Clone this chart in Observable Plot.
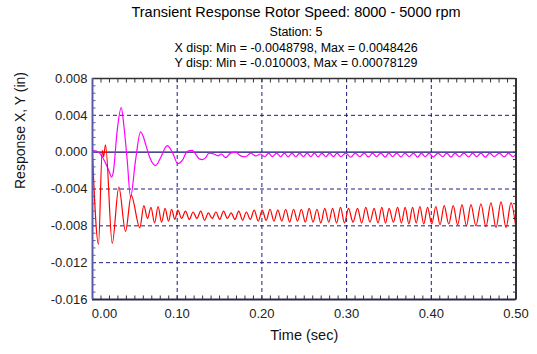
<!DOCTYPE html>
<html>
<head>
<meta charset="utf-8">
<script src="https://cdn.jsdelivr.net/npm/d3@7"></script>
<script src="https://cdn.jsdelivr.net/npm/@observablehq/plot@0.6"></script>
<style>
  html, body { margin: 0; padding: 0; background: #fff; }
  body { font-family: "Liberation Sans", Arial, sans-serif; color: #000; width: 537px; }
  #head { width: 537px; padding-left: 55px; box-sizing: border-box; text-align: center; }
  #head div { white-space: nowrap; }
  .t1 { font-size: 14.5px; height: 24px; line-height: 24px; }
  .t2 { font-size: 12.5px; height: 17px; line-height: 17px; }
  .t3 { font-size: 12.5px; height: 15px; line-height: 15px; }
</style>
</head>
<body>
<div id="head">
  <div class="t1" id="title"></div>
  <div class="t2" id="station"></div>
  <div class="t3" id="xinfo"></div>
  <div class="t3" id="yinfo"></div>
</div>
<div id="chart"></div>
<script>
// Header text
const titleText = "Transient Response Rotor Speed: 8000 - 5000 rpm";
const stationText = "Station: 5";
const xDispMin = -0.0048798, xDispMax = 0.0048426;
const yDispMin = -0.010003, yDispMax = 0.00078129;

// Axis ticks
const xTicks = [0, 0.1, 0.2, 0.3, 0.4, 0.5];
const yTicks = [-0.016, -0.012, -0.008, -0.004, 0, 0.004, 0.008];
const xGrid = [0.1, 0.2, 0.3, 0.4];
const yGrid = [-0.012, -0.008, -0.004, 0.004];

// X displacement (magenta): time (s) and response (in)
const xDispT = [
  0.0000, 0.0074, 0.0115, 0.0154, 0.0193, 0.0225, 0.0245, 0.0292, 0.0339, 0.0370,
  0.0410, 0.0449, 0.0508, 0.0567, 0.0599, 0.0626, 0.0677, 0.0745, 0.0804, 0.0883,
  0.0942, 0.1008, 0.1060, 0.1119, 0.1178, 0.1217, 0.1257, 0.1297, 0.1336, 0.1375,
  0.1434, 0.1481, 0.1521, 0.1572, 0.1631, 0.1690, 0.1749, 0.1809, 0.1868, 0.1927,
  0.1986, 0.2033, 0.2079, 0.2124, 0.2173, 0.2222, 0.2266, 0.2309, 0.2355, 0.2400,
  0.2446, 0.2491, 0.2534, 0.2577, 0.2620, 0.2663, 0.2709, 0.2754, 0.2800, 0.2845,
  0.2888, 0.2931, 0.2990, 0.3050, 0.3103, 0.3156, 0.3208, 0.3259, 0.3306, 0.3353,
  0.3404, 0.3455, 0.3499, 0.3543, 0.3592, 0.3641, 0.3690, 0.3739, 0.3789, 0.3838,
  0.3883, 0.3928, 0.3975, 0.4022, 0.4078, 0.4134, 0.4183, 0.4232, 0.4281, 0.4330,
  0.4386, 0.4441, 0.4488, 0.4535, 0.4586, 0.4637, 0.4690, 0.4743, 0.4803, 0.4862,
  0.4912, 0.4961, 0.5000
];
const xDispV = [
  0.0002, 0.0000, -0.0005, -0.0012, -0.0020, -0.0027, -0.0022, 0.0024, 0.0048426, 0.0029,
  -0.0009, -0.0048798, -0.0009, 0.0022, 0.0017, 0.0009, -0.0006, -0.00145, -0.0006, 0.0007,
  0.0000, -0.00126, -0.0009, 0.0001, 0.0002, -0.0002, -0.0007, -0.0008, -0.0006, -0.0001,
  -0.0002, -0.0004, -0.0002, -0.0006, -0.0001, 0.0000, -0.0004, -0.0005, -0.0001, -0.0004,
  -0.0002, -0.0005, -0.0001, -0.00048, -0.0001, -0.0005, -0.0001, -0.00052, -0.0001, -0.0005,
  -0.0001, -0.00048, -0.0001, -0.0005, -0.0001, -0.00052, -0.0001, -0.0005, -0.0001, -0.00048,
  -0.0001, -0.0005, -0.0001, -0.00055, -0.0001, -0.0005, -0.0001, -0.00052, -0.0001, -0.0005,
  -0.0001, -0.00053, -0.0001, -0.0005, -0.0001, -0.00052, -0.0001, -0.0005, -0.0001, -0.00053,
  -0.0001, -0.0005, -0.0001, -0.00052, -0.0001, -0.0005, -0.0001, -0.00053, -0.0001, -0.0005,
  -0.0001, -0.00052, -0.0001, -0.0005, -0.0001, -0.00053, -0.0001, -0.0005, -0.0001, -0.00052,
  -0.0001, -0.0005, -0.0002
];

// Y displacement (red): time (s) and response (in)
const yDispT = [
  0.0000, 0.0071, 0.0115, 0.0130, 0.0154, 0.0233, 0.0311, 0.0390, 0.0457, 0.0559,
  0.0606, 0.0650, 0.0690, 0.0733, 0.0774, 0.0816, 0.0857, 0.0898, 0.0934, 0.0972,
  0.1008, 0.1053, 0.1098, 0.1143, 0.1188, 0.1233, 0.1278, 0.1323, 0.1368, 0.1413,
  0.1457, 0.1502, 0.1547, 0.1592, 0.1637, 0.1682, 0.1727, 0.1772, 0.1817, 0.1863,
  0.1909, 0.1957, 0.2004, 0.2050, 0.2096, 0.2142, 0.2188, 0.2235, 0.2281, 0.2328,
  0.2374, 0.2420, 0.2466, 0.2512, 0.2558, 0.2604, 0.2650, 0.2696, 0.2742, 0.2789,
  0.2835, 0.2882, 0.2928, 0.2975, 0.3022, 0.3076, 0.3129, 0.3178, 0.3227, 0.3276,
  0.3325, 0.3371, 0.3416, 0.3459, 0.3502, 0.3552, 0.3602, 0.3647, 0.3691, 0.3735,
  0.3779, 0.3822, 0.3865, 0.3911, 0.3956, 0.4005, 0.4054, 0.4103, 0.4152, 0.4206,
  0.4259, 0.4311, 0.4362, 0.4415, 0.4468, 0.4527, 0.4586, 0.4645, 0.4704, 0.4764,
  0.4823, 0.4882, 0.4941, 0.5000
];
const yDispV = [
  -0.0003, -0.010003, 0.0002, -0.0005, 0.00078129, -0.0099, -0.0038, -0.0086, -0.0047, -0.0082,
  -0.0058, -0.0072, -0.0060, -0.0077, -0.0059, -0.0076, -0.0061, -0.0075, -0.0062, -0.0073,
  -0.0063, -0.0072, -0.0064, -0.0073, -0.0065, -0.0072, -0.0064, -0.0074, -0.0066, -0.0072,
  -0.0065, -0.0073, -0.0064, -0.0072, -0.0066, -0.0073, -0.0064, -0.0074, -0.0065, -0.0073,
  -0.0063, -0.0075, -0.0063, -0.0074, -0.0062, -0.0075, -0.0063, -0.0075, -0.0062, -0.0076,
  -0.0062, -0.0075, -0.0062, -0.0076, -0.0061, -0.0076, -0.0062, -0.0077, -0.0061, -0.0076,
  -0.0061, -0.0077, -0.0060, -0.0077, -0.0061, -0.0076, -0.0061, -0.0077, -0.0060, -0.0076,
  -0.0061, -0.0077, -0.0060, -0.0077, -0.0061, -0.0076, -0.0060, -0.0077, -0.0060, -0.0078,
  -0.0060, -0.0077, -0.0059, -0.0078, -0.0060, -0.0078, -0.0059, -0.0079, -0.0058, -0.0078,
  -0.0058, -0.0079, -0.0057, -0.0080, -0.0057, -0.0080, -0.0056, -0.0081, -0.0055, -0.0082,
  -0.0054, -0.0082, -0.0055, -0.0083
];

const xDisp = xDispT.map((t, i) => ({t, v: xDispV[i]}));
const yDisp = yDispT.map((t, i) => ({t, v: yDispV[i]}));

// Minor tick positions: 0.01 s along time, 0.0008 in along response
const xMinor = d3.range(51).map(i => i / 100);
const yMinor = d3.range(31).map(i => -0.016 + i * 0.0008);

document.getElementById("title").textContent = titleText;
document.getElementById("station").textContent = stationText;
document.getElementById("xinfo").textContent = `X disp: Min = ${xDispMin}, Max = ${xDispMax}`;
document.getElementById("yinfo").textContent = `Y disp: Min = ${yDispMin}, Max = ${yDispMax}`;

const gridColor = "#1c1c86";
const leftAxisColor = "#5b5bab";
const darkAxisColor = "#333333";

const chart = Plot.plot({
  width: 537,
  height: 283,
  marginTop: 7,
  marginBottom: 55,
  marginLeft: 92,
  marginRight: 21.5,
  style: {fontFamily: "'Liberation Sans', Arial, sans-serif", fontSize: "13px", color: "#222", background: "#fff"},
  x: {domain: [0, 0.5]},
  y: {domain: [-0.016, 0.008]},
  marks: [
    // dashed grid
    Plot.ruleX(xGrid, {stroke: gridColor, strokeDasharray: "4,3", strokeWidth: 1}),
    Plot.ruleY(yGrid, {stroke: gridColor, strokeDasharray: "4,3", strokeWidth: 1}),
    // zero reference
    Plot.ruleY([0], {stroke: "#0c0c70", strokeWidth: 1.4}),
    // responses
    Plot.line(xDisp, {x: "t", y: "v", stroke: "#ff00ff", strokeWidth: 1.2, curve: "monotone-x", clip: true}),
    Plot.line(yDisp, {x: "t", y: "v", stroke: "#ff0000", strokeWidth: 1.2, curve: "monotone-x", clip: true}),
    // inward minor ticks on all four sides
    Plot.axisY(yMinor, {anchor: "left", tickSize: -3.5, text: null, label: null, stroke: leftAxisColor}),
    Plot.axisY(yMinor, {anchor: "right", tickSize: -3.5, text: null, label: null, stroke: darkAxisColor}),
    Plot.axisX(xMinor, {anchor: "bottom", tickSize: -3.5, text: null, label: null, stroke: darkAxisColor}),
    Plot.axisX(xMinor, {anchor: "top", tickSize: -3.5, text: null, label: null, stroke: darkAxisColor}),
    // frame
    Plot.ruleY([0.008], {stroke: darkAxisColor, strokeWidth: 1.5}),
    Plot.ruleX([0.5], {stroke: darkAxisColor, strokeWidth: 2}),
    Plot.ruleY([-0.016], {stroke: "#2a2a48", strokeWidth: 2}),
    Plot.ruleX([0], {stroke: leftAxisColor, strokeWidth: 2}),
    // tick labels
    Plot.axisY(yTicks, {anchor: "left", tickSize: 0, tickPadding: 5, tickFormat: d => d.toFixed(3), label: null, fill: "#222"}),
    Plot.axisX(xTicks.slice(0, 1), {anchor: "bottom", tickSize: 0, tickPadding: 9, dx: 12, tickFormat: d => d.toFixed(2), label: null, fill: "#222"}),
    Plot.axisX(xTicks.slice(1), {anchor: "bottom", tickSize: 0, tickPadding: 9, tickFormat: d => d.toFixed(2), label: null, fill: "#222"}),
    // axis titles
    Plot.text(["Time (sec)"], {frameAnchor: "bottom", dy: 40, text: d => d, fontSize: 14.5, fill: "#111"}),
    Plot.text(["Response X, Y (in)"], {frameAnchor: "left", dx: -72, rotate: -90, text: d => d, fontSize: 14, fill: "#111"})
  ]
});
document.getElementById("chart").appendChild(chart);
</script>
</body>
</html>
